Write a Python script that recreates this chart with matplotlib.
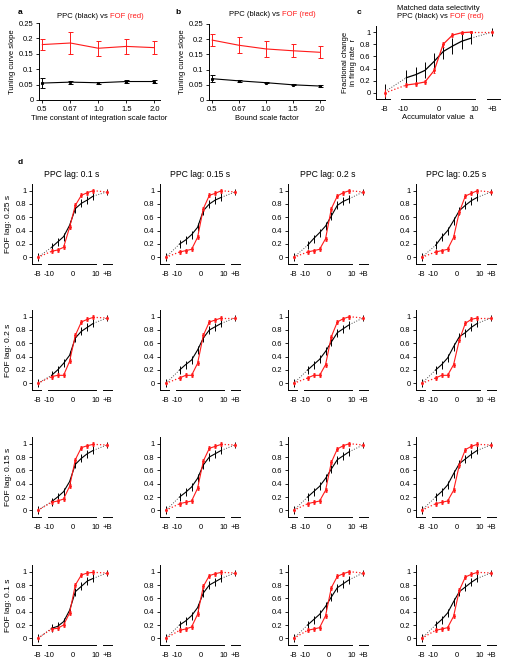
import numpy as np
import matplotlib
matplotlib.use('Agg')
import matplotlib.pyplot as plt

plt.rcParams['font.family'] = ['Liberation Sans', 'DejaVu Sans']
plt.rcParams['font.size'] = 5.5
plt.rcParams['axes.linewidth'] = 0.7
plt.rcParams['xtick.major.size'] = 2
plt.rcParams['ytick.major.size'] = 2
plt.rcParams['xtick.major.width'] = 0.6
plt.rcParams['ytick.major.width'] = 0.6
plt.rcParams['xtick.major.pad'] = 2
plt.rcParams['ytick.major.pad'] = 2

RED = '#ff1a1a'

# ---- panel a / b : tuning curve slope vs scale factor
scale_labels = ['0.5', '0.67', '1.0', '1.5', '2.0']
a_fof = [0.180, 0.185, 0.168, 0.174, 0.170]
a_fof_err = [0.018, 0.035, 0.025, 0.025, 0.022]
a_ppc = [0.055, 0.058, 0.056, 0.060, 0.060]
a_ppc_err = [0.016, 0.005, 0.003, 0.004, 0.005]

b_fof = [0.197, 0.180, 0.168, 0.162, 0.157]
b_fof_err = [0.020, 0.027, 0.025, 0.021, 0.020]
b_ppc = [0.070, 0.063, 0.057, 0.050, 0.046]
b_ppc_err = [0.012, 0.003, 0.002, 0.002, 0.003]

# ---- panel c : matched data selectivity
acc_x = [-9, -6.4, -3.8, -1.2, 1.3, 3.9, 6.5, 9.1]
c_ppc = [0.25, 0.30, 0.37, 0.52, 0.68, 0.77, 0.85, 0.90]
c_ppc_err = [0.12, 0.12, 0.13, 0.13, 0.12, 0.13, 0.12, 0.10]
c_fof = [0.13, 0.15, 0.18, 0.37, 0.80, 0.95, 0.99, 1.00]
c_fof_err = [0.03, 0.03, 0.03, 0.04, 0.04, 0.03, 0.02, 0.02]
c_bounds_ppc = [0.02, 1.00]
c_bounds_ppc_err = [0.12, 0.07]
c_bounds_fof = [0.00, 1.00]

# ---- panel d : rows = FOF lag, cols = PPC lag
ppc_lags = ['0.1', '0.15', '0.2', '0.25']
fof_lags = ['0.25', '0.2', '0.15', '0.1']
d_ppc = [
    [[0.15, 0.23, 0.31, 0.48, 0.73, 0.81, 0.86, 0.92],
     [0.20, 0.26, 0.34, 0.45, 0.70, 0.80, 0.86, 0.90],
     [0.18, 0.28, 0.37, 0.47, 0.62, 0.78, 0.84, 0.88],
     [0.18, 0.30, 0.40, 0.55, 0.70, 0.78, 0.85, 0.90]],
    [[0.12, 0.20, 0.30, 0.42, 0.68, 0.78, 0.84, 0.90],
     [0.20, 0.28, 0.35, 0.50, 0.68, 0.80, 0.85, 0.90],
     [0.20, 0.28, 0.36, 0.48, 0.62, 0.76, 0.82, 0.88],
     [0.20, 0.28, 0.38, 0.55, 0.70, 0.76, 0.84, 0.90]],
    [[0.13, 0.20, 0.28, 0.43, 0.69, 0.78, 0.85, 0.90],
     [0.20, 0.27, 0.35, 0.48, 0.68, 0.80, 0.85, 0.90],
     [0.20, 0.28, 0.36, 0.48, 0.62, 0.76, 0.82, 0.88],
     [0.20, 0.28, 0.38, 0.55, 0.70, 0.77, 0.84, 0.90]],
    [[0.15, 0.18, 0.25, 0.42, 0.70, 0.78, 0.86, 0.90],
     [0.20, 0.26, 0.34, 0.46, 0.68, 0.80, 0.85, 0.90],
     [0.20, 0.28, 0.36, 0.48, 0.62, 0.76, 0.82, 0.88],
     [0.20, 0.28, 0.38, 0.55, 0.70, 0.77, 0.84, 0.90]],
]
d_fof = [
    [[0.09, 0.11, 0.15, 0.45, 0.78, 0.93, 0.97, 1.00],
     [0.08, 0.10, 0.12, 0.30, 0.73, 0.93, 0.96, 1.00],
     [0.08, 0.10, 0.12, 0.28, 0.73, 0.92, 0.97, 1.00],
     [0.08, 0.10, 0.12, 0.30, 0.68, 0.92, 0.96, 1.00]],
    [[0.10, 0.12, 0.12, 0.33, 0.72, 0.92, 0.96, 0.99],
     [0.08, 0.12, 0.12, 0.30, 0.72, 0.92, 0.95, 0.98],
     [0.08, 0.12, 0.12, 0.28, 0.70, 0.92, 0.97, 1.00],
     [0.08, 0.12, 0.12, 0.28, 0.65, 0.90, 0.96, 0.98]],
    [[0.12, 0.14, 0.17, 0.36, 0.76, 0.94, 0.97, 0.99],
     [0.10, 0.12, 0.14, 0.33, 0.74, 0.93, 0.96, 0.99],
     [0.10, 0.12, 0.14, 0.30, 0.72, 0.92, 0.97, 1.00],
     [0.10, 0.12, 0.14, 0.30, 0.68, 0.91, 0.96, 0.99]],
    [[0.14, 0.15, 0.20, 0.38, 0.80, 0.95, 0.98, 0.99],
     [0.12, 0.14, 0.17, 0.36, 0.78, 0.94, 0.97, 0.99],
     [0.12, 0.14, 0.16, 0.34, 0.76, 0.93, 0.97, 1.00],
     [0.12, 0.14, 0.16, 0.33, 0.72, 0.92, 0.96, 0.99]],
]
d_ppc_err = [0.06, 0.06, 0.06, 0.06, 0.06, 0.06, 0.06, 0.06]
d_fof_err = [0.03, 0.03, 0.03, 0.03, 0.03, 0.03, 0.03, 0.03]
d_bounds_ppc = [0.00, 0.98]
d_bounds_fof = [0.00, 0.98]
d_bounds_err = [0.06, 0.05]

bound_x = [-15, 15]
acc_ticks = [-15, -10, 0, 10, 15]
acc_ticklabels = ['-B', '-10', '0', '10', '+B']

W, H = 512, 666
fig = plt.figure(figsize=(W / 100, H / 100), dpi=100)


def add_ax(x0, y0, x1, y1):
    return fig.add_axes([x0 / W, 1 - y1 / H, (x1 - x0) / W, (y1 - y0) / H])


def two_color_title(y, x_center_px):
    # "PPC (black) vs FOF (red)" with the FOF part in red
    fig.text(x_center_px / W, 1 - y / H, 'PPC (black) vs ', ha='right', va='center')
    fig.text(x_center_px / W, 1 - y / H, 'FOF (red)', ha='left', va='center', color=RED)


def slope_panel(ax, ppc, ppc_err, fof, fof_err, xlabel):
    x = np.arange(len(scale_labels))
    ax.errorbar(x, fof, yerr=fof_err, color=RED, lw=0.8, capsize=1.8, elinewidth=0.7, capthick=0.7)
    ax.errorbar(x, ppc, yerr=ppc_err, color='k', lw=0.8, capsize=1.8, elinewidth=0.7, capthick=0.7,
                marker='s', ms=1.2)
    ax.set_xlim(-0.12, 4.2)
    ax.set_ylim(0, 0.25)
    ax.set_yticks([0, 0.05, 0.1, 0.15, 0.2, 0.25])
    ax.set_yticklabels(['0', '0.05', '0.1', '0.15', '0.2', '0.25'])
    ax.set_xticks(x)
    ax.set_xticklabels(scale_labels)
    ax.set_xlabel(xlabel, labelpad=2)
    ax.set_ylabel('Tuning curve slope', labelpad=2)
    for s in ['top', 'right']:
        ax.spines[s].set_visible(False)


def curve_panel(ax, ppc, ppc_err, fof, fof_err, b_ppc, b_ppc_err, b_fof, lw=0.8):
    ax.plot([bound_x[0], acc_x[0]], [b_ppc[0], ppc[0]], ':', color='0.3', lw=0.7)
    ax.plot([acc_x[-1], bound_x[1]], [ppc[-1], b_ppc[1]], ':', color='0.3', lw=0.7)
    ax.plot([bound_x[0], acc_x[0]], [b_fof[0], fof[0]], ':', color=RED, lw=0.9)
    ax.plot([acc_x[-1], bound_x[1]], [fof[-1], b_fof[1]], ':', color=RED, lw=0.9)
    ax.errorbar(acc_x, ppc, yerr=ppc_err, color='k', lw=lw, elinewidth=0.7)
    ax.errorbar(acc_x, fof, yerr=fof_err, color=RED, lw=lw, elinewidth=0.7, capsize=1, capthick=0.6,
                marker='s', ms=1)
    ax.errorbar(bound_x, b_ppc, yerr=b_ppc_err, color='k', ls='none', elinewidth=0.7)
    ax.errorbar(bound_x, b_fof, yerr=[e * 0.5 for e in b_ppc_err], color=RED, ls='none',
                elinewidth=0.8, marker='s', ms=1)
    ax.set_xlim(-17.5, 17.2)
    ax.set_ylim(-0.1, 1.1)
    ax.set_yticks([0, 0.2, 0.4, 0.6, 0.8, 1])
    ax.set_yticklabels(['0', '0.2', '0.4', '0.6', '0.8', '1'])
    ax.set_xticks(acc_ticks)
    ax.set_xticklabels(acc_ticklabels)
    ax.tick_params(axis='x', length=0, pad=5)
    for s in ['top', 'right', 'bottom']:
        ax.spines[s].set_visible(False)
    tr = ax.get_xaxis_transform()
    for seg in [(-17.5, -13.5), (-10.6, 10.2), (13.5, 17.2)]:
        ax.plot(seg, [0, 0], color='k', lw=0.7, transform=tr, clip_on=False)


# panel a
ax_a = add_ax(39, 23, 160, 100)
slope_panel(ax_a, a_ppc, a_ppc_err, a_fof, a_fof_err, 'Time constant of integration scale factor')
two_color_title(16, 110)
fig.text(18 / W, 1 - 12 / H, 'a', fontweight='bold', fontsize=6, va='center')

# panel b
ax_b = add_ax(209, 24, 325, 100)
slope_panel(ax_b, b_ppc, b_ppc_err, b_fof, b_fof_err, 'Bound scale factor')
two_color_title(15, 282)
fig.text(175 / W, 1 - 12 / H, 'b', fontweight='bold', fontsize=6, va='center')

# panel c
ax_c = add_ax(376, 26, 500, 99)
curve_panel(ax_c, c_ppc, c_ppc_err, c_fof, c_fof_err, c_bounds_ppc, c_bounds_ppc_err, c_bounds_fof, lw=0.9)
ax_c.set_xlabel('Accumulator value  a', labelpad=1)
ax_c.set_ylabel('Fractional change\nin firing rate  r', labelpad=2)
fig.text(438 / W, 1 - 8 / H, 'Matched data selectivity', ha='center', va='center')
two_color_title(17, 450)
fig.text(357 / W, 1 - 13 / H, 'c', fontweight='bold', fontsize=6, va='center')

# panel d
fig.text(18 / W, 1 - 162 / H, 'd', fontweight='bold', fontsize=6, va='center')
col_x = [32, 160, 288, 416]
row_y1 = [191, 317, 444, 572]
for r in range(4):
    for c in range(4):
        y1 = row_y1[r]
        ax = add_ax(col_x[c], y1 - 7, col_x[c] + 80, y1 + 73)
        curve_panel(ax, d_ppc[r][c], d_ppc_err, d_fof[r][c], d_fof_err,
                    d_bounds_ppc, d_bounds_err, d_bounds_fof)
        if r == 0:
            ax.set_title('PPC lag: ' + ppc_lags[c] + ' s', fontsize=6.2, pad=5)
        if c == 0:
            ax.set_ylabel('FOF lag: ' + fof_lags[r] + ' s', fontsize=6, labelpad=3)

fig.savefig('out.png', dpi=100)
